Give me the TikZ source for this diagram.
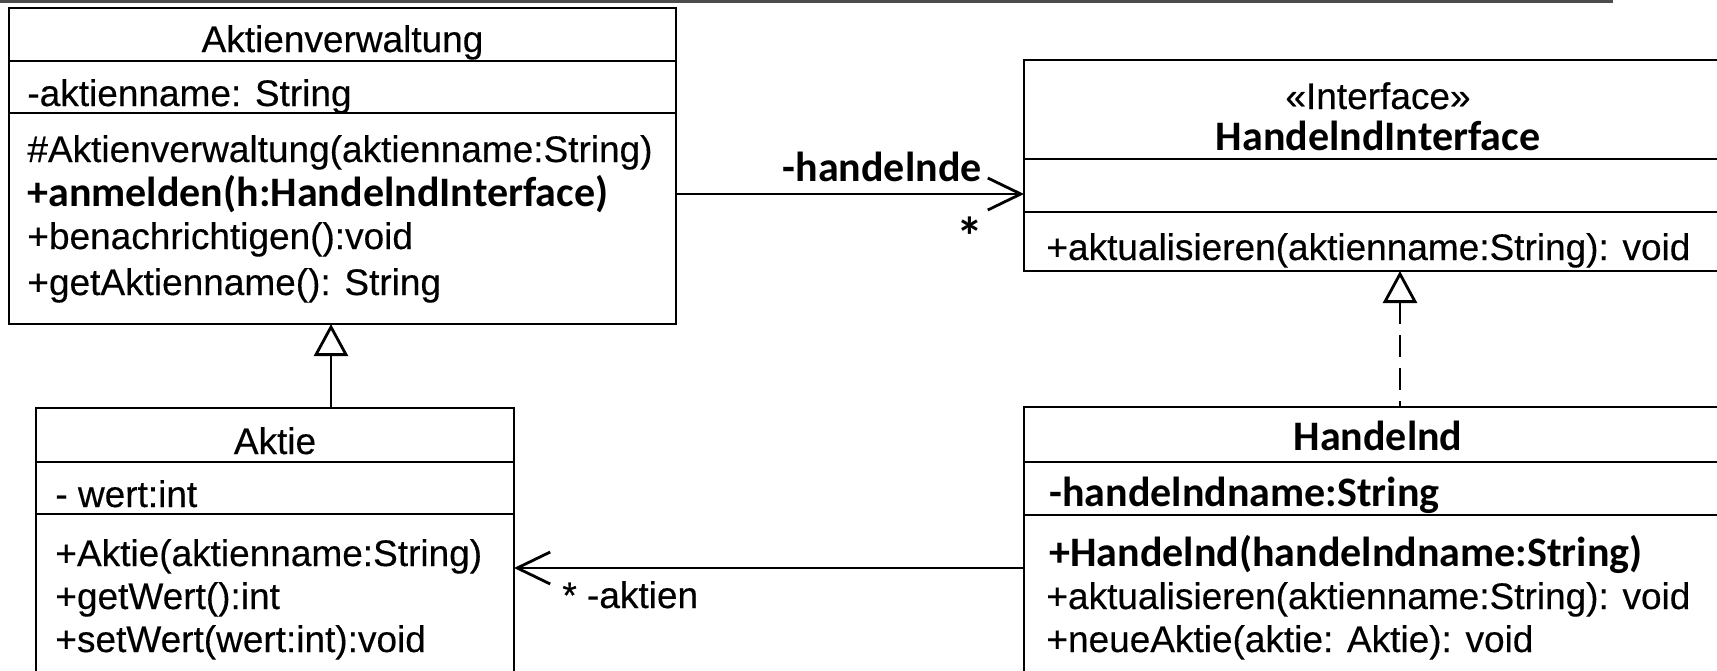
\documentclass[tikz,border=0pt]{standalone}
\usepackage{fontspec}
\setmainfont{Liberation Sans}
\newfontfamily\arialx{Liberation Sans}[FakeBold=0.35]
\newfontfamily\calibri{Carlito}
\usetikzlibrary{arrows.meta}
\begin{document}
\begin{tikzpicture}[x=0.5pt,y=-0.5pt,
  box/.style={draw, line width=1.4pt, anchor=north west, inner sep=0pt, outer sep=0pt},
  sep/.style={line width=1.4pt},
  txt/.style={anchor=base west, inner sep=0pt, font=\arialx\fontsize{18.5}{22}\selectfont},
  ttl/.style={anchor=base, inner sep=0pt, font=\arialx\fontsize{18.5}{22}\selectfont},
  btxt/.style={anchor=base west, inner sep=0pt, font=\calibri\bfseries\fontsize{21}{25}\selectfont},
  bttl/.style={anchor=base, inner sep=0pt, font=\calibri\bfseries\fontsize{21}{25}\selectfont},
  conn/.style={line width=1.4pt},
  barb/.style={-{Straight Barb[length=16.5pt,width=16pt,line width=1.4pt]}},
  gen/.style={{Triangle[open,length=16pt,width=17pt,fill=white,line width=1.4pt]}-},
]
\useasboundingbox (0,0) rectangle (1717,670);
\clip (0,0) rectangle (1717,670);

% top rule
\draw[line width=1.5pt, black!70] (0,1) -- (1613,1);

% boxes
\node[box, minimum width=333.5pt, minimum height=158pt] (av) at (9,8) {};
\node[box, minimum width=354pt, minimum height=105.5pt] (ifc) at (1024,60) {};
\node[box, minimum width=354pt, minimum height=150pt] (hd) at (1024,407) {};
\node[box, minimum width=239pt, minimum height=150pt] (ak) at (36,408) {};

% dividers
\draw[sep] (av.west |- 0,61) -- (av.east |- 0,61);
\draw[sep] (av.west |- 0,113) -- (av.east |- 0,113);
\draw[sep] (ifc.west |- 0,159) -- (ifc.east |- 0,159);
\draw[sep] (ifc.west |- 0,212) -- (ifc.east |- 0,212);
\draw[sep] (hd.west |- 0,462) -- (hd.east |- 0,462);
\draw[sep] (hd.west |- 0,515) -- (hd.east |- 0,515);
\draw[sep] (ak.west |- 0,462) -- (ak.east |- 0,462);
\draw[sep] (ak.west |- 0,514) -- (ak.east |- 0,514);

% Aktienverwaltung
\node[ttl] (avt) at (av.north |- 0,52) {Aktienverwaltung};
\node[txt] (ava) at (27,106) {-aktienname: String};
\node[txt] (avm1) at (27,162) {\#Aktienverwaltung(aktienname:String)};
\node[btxt] (avm2) at (27,206) {+anmelden(h:HandelndInterface)};
\node[txt] (avm3) at (27,249) {+benachrichtigen():void};
\node[txt] (avm4) at (27,295) {+getAktienname(): String};

% Interface
\node[ttl] (ifs) at (ifc.north |- 0,109) {«Interface»};
\node[bttl] (ift) at (ifc.north |- 0,150) {HandelndInterface};
\node[txt] (ifm1) at (1046,260) {+aktualisieren(aktienname:String): void};

% Handelnd
\node[bttl] (hdt) at (hd.north |- 0,450) {Handelnd};
\node[btxt] (hda) at (1049,506) {-handelndname:String};
\node[btxt] (hdm1) at (1049,566) {+Handelnd(handelndname:String)};
\node[txt] (hdm2) at (1046,609) {+aktualisieren(aktienname:String): void};
\node[txt] (hdm3) at (1046,652) {+neueAktie(aktie: Aktie): void};

% Aktie
\node[ttl] (akt) at (ak.north |- 0,454) {Aktie};
\node[txt] (aka) at (55,507) {- wert:int};
\node[txt] (akm1) at (55,566) {+Aktie(aktienname:String)};
\node[txt] (akm2) at (55,609) {+getWert():int};
\node[txt] (akm3) at (55,652) {+setWert(wert:int):void};

% connectors
\draw[conn, barb] (av.east |- 0,194) -- (ifc.west |- 0,194);
\node[btxt, anchor=base east] (lh) at (982,181) {-handelnde};
\node[inner sep=0pt, font=\calibri\bfseries\fontsize{27}{30}\selectfont] (ls) at (970,236) {*};

\draw[conn, barb] (hd.west |- 0,568) -- (ak.east |- 0,568);
\node[txt] (la) at (562,608) {* -aktien};

\draw[conn, gen] (331,0 |- av.south) -- (331,0 |- ak.north);
\draw[conn, gen, dash pattern=on 11pt off 5.5pt] (1400,0 |- ifc.south) -- (1400,0 |- hd.north);
\end{tikzpicture}
\end{document}
